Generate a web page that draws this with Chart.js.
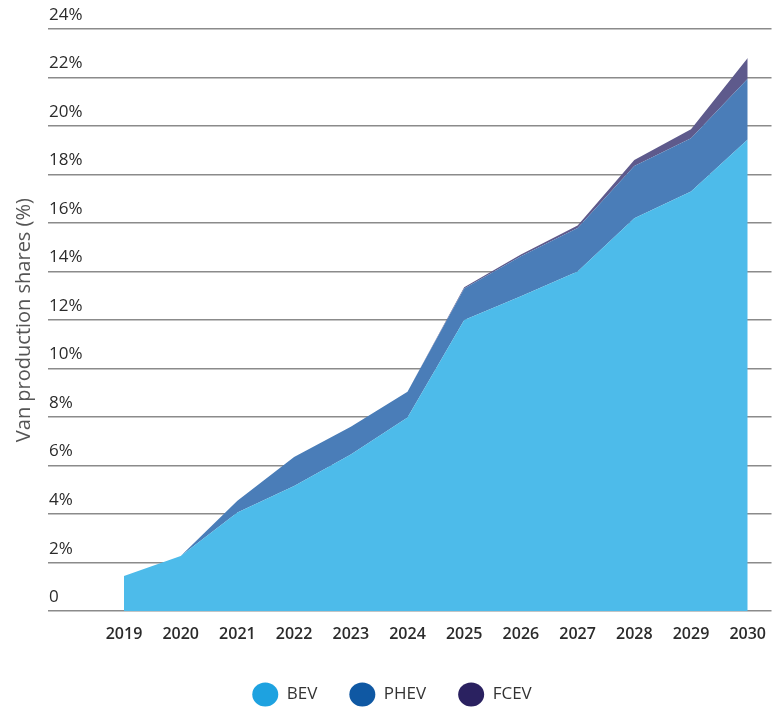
<!DOCTYPE html>
<html>
<head>
<meta charset="utf-8">
<script src="https://cdn.jsdelivr.net/npm/chart.js@4.4.0/dist/chart.umd.min.js"></script>
<style>
  html, body { margin: 0; padding: 0; background: #fff; }
</style>
</head>
<body>
<canvas id="myChart" width="772" height="713"></canvas>
<script>
// share of van production, in %
const years = [2019, 2020, 2021, 2022, 2023, 2024, 2025, 2026, 2027, 2028, 2029, 2030];
const bev = [1.45, 2.28, 4.07, 5.16, 6.46, 7.98, 12.0, 12.98, 14.0, 16.2, 17.3, 19.45];
const phev = [0, 0, 0.48, 1.2, 1.14, 1.07, 1.3, 1.65, 1.8, 2.15, 2.2, 2.5];
const fcev = [0, 0, 0, 0, 0, 0, 0.05, 0.07, 0.1, 0.25, 0.37, 0.85];
const yTicks = [0, 2, 4, 6, 8, 10, 12, 14, 16, 18, 20, 22, 24];
const seriesNames = ["BEV", "PHEV", "FCEV"];
const areaColors = ["#4dbbea", "#4a7db8", "#5e5a8c"];
const legendColors = ["#1ea2e0", "#0f58a3", "#2a2160"];

const toPoints = (vals) => vals.map((v, i) => ({ x: years[i], y: v }));

const ctx = document.getElementById("myChart").getContext("2d");

new Chart(ctx, {
  type: "line",
  data: {
    datasets: [bev, phev, fcev].map((vals, i) => ({
      label: seriesNames[i],
      data: toPoints(vals),
      backgroundColor: areaColors[i],
      borderWidth: 0,
      pointRadius: 0,
      fill: i === 0 ? "origin" : "-1",
      tension: 0,
    })),
  },
  options: {
    responsive: false,
    animation: false,
    layout: { padding: { top: 29, left: 12, right: 0, bottom: 0 } },
    scales: {
      x: {
        type: "linear",
        min: 2017.66,
        max: 2030.42,
        afterBuildTicks: (scale) => {
          scale.ticks = years.map((v) => ({ value: v }));
        },
        grid: { display: false },
        border: { display: false },
        ticks: {
          padding: 6,
          color: "#2b2b2b",
          font: { family: "Open Sans", size: 16, weight: "600" },
          callback: (v) => String(v),
        },
        // empty title, only used as a small spacer above the legend
        title: {
          display: true,
          text: "",
          font: { size: 3, lineHeight: 1.2 },
          padding: { top: 0, bottom: 0 },
        },
      },
      y: {
        stacked: true,
        min: 0,
        max: 24,
        z: 1,
        afterBuildTicks: (scale) => {
          scale.ticks = yTicks.map((v) => ({ value: v }));
        },
        grid: {
          color: "rgba(100, 100, 100, 0.75)",
          lineWidth: 1.5,
          drawTicks: false,
        },
        border: { display: false },
        ticks: {
          mirror: true,
          padding: 1,
          labelOffset: -14,
          color: "#2b2b2b",
          font: { family: "Open Sans", size: 17 },
          callback: (v) => (v === 0 ? "0" : v + "%"),
        },
        title: {
          display: true,
          text: "Van production shares (%)",
          color: "#555",
          font: { family: "Open Sans", size: 20 },
          padding: { top: 0, bottom: 10 },
        },
      },
    },
    plugins: {
      legend: {
        position: "bottom",
        labels: {
          usePointStyle: true,
          pointStyleWidth: 26,
          padding: 32,
          color: "#333",
          font: { family: "Open Sans", size: 17 },
          generateLabels: (chart) =>
            Chart.defaults.plugins.legend.labels.generateLabels(chart).map((l, i) => ({
              ...l,
              fillStyle: legendColors[i],
              strokeStyle: legendColors[i],
              lineWidth: 0,
            })),
        },
      },
      tooltip: { enabled: false },
    },
  },
});
</script>
</body>
</html>
